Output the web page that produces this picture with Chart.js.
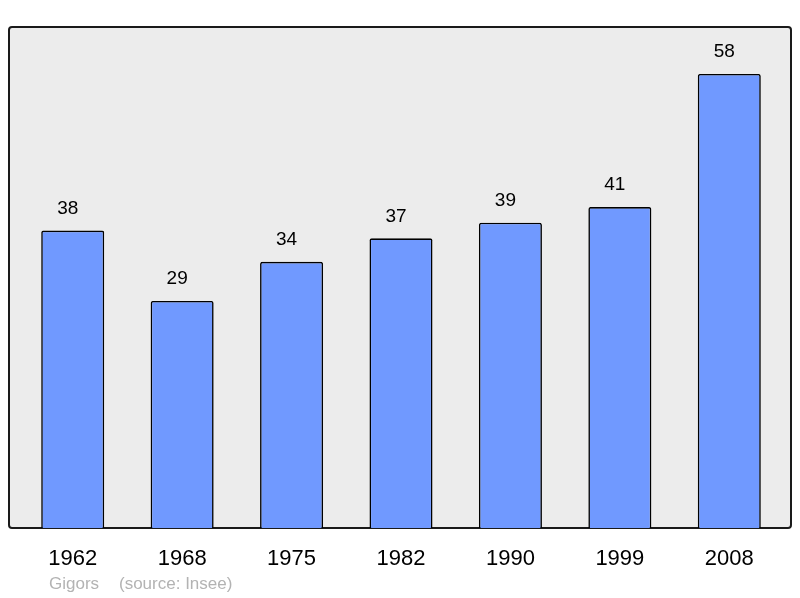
<!DOCTYPE html>
<html>
<head>
<meta charset="utf-8">
<script src="https://cdn.jsdelivr.net/npm/chart.js@4/dist/chart.umd.min.js"></script>
<style>
  html, body { margin: 0; padding: 0; background: #ffffff; }
  canvas { display: block; }
</style>
</head>
<body>
<canvas id="popChart" width="800" height="598"></canvas>
<script>
const years = ["1962", "1968", "1975", "1982", "1990", "1999", "2008"];
const population = [38, 29, 34, 37, 39, 41, 58];
const sourceText = ["Gigors", "(source: Insee)"];

// grey frame behind the bars, a bit wider than the category band
const framePlugin = {
    id: "frame",
    beforeDatasetsDraw(chart) {
        const { ctx, chartArea } = chart;
        const x0 = chartArea.left - 9, x1 = chartArea.right + 7;
        const y0 = chartArea.top, y1 = chartArea.bottom;
        ctx.save();
        ctx.beginPath();
        ctx.roundRect(x0, y0, x1 - x0, y1 - y0, 3);
        ctx.fillStyle = "#ececec";
        ctx.fill();
        ctx.lineWidth = 2;
        ctx.strokeStyle = "#1a1a1a";
        ctx.stroke();
        ctx.restore();
    },
    afterDatasetsDraw(chart) {
        const { ctx } = chart;
        const meta = chart.getDatasetMeta(0);
        ctx.save();
        ctx.font = "19px 'Liberation Sans', Arial, sans-serif";
        ctx.fillStyle = "#000000";
        ctx.textAlign = "center";
        ctx.textBaseline = "middle";
        meta.data.forEach((bar, i) => {
            ctx.fillText(String(population[i]), bar.x - 5, bar.y - 22);
        });
        ctx.font = "17px 'Liberation Sans', Arial, sans-serif";
        ctx.fillStyle = "#b3b3b3";
        ctx.textAlign = "left";
        ctx.fillText(sourceText[0], 49, 584);
        ctx.fillText(sourceText[1], 119, 584);
        ctx.restore();
    }
};

new Chart(document.getElementById("popChart").getContext("2d"), {
    type: "bar",
    data: {
        labels: years,
        datasets: [{
            data: population,
            backgroundColor: "#7099ff",
            borderColor: "#000000",
            borderWidth: 1.6,
            borderRadius: 2,
            borderSkipped: "bottom",
            barPercentage: 0.576,
            categoryPercentage: 1
        }]
    },
    options: {
        responsive: false,
        animation: false,
        devicePixelRatio: 1,
        layout: { padding: { left: 18, right: 16, top: 27, bottom: 0 } },
        plugins: { legend: { display: false }, tooltip: { enabled: false } },
        scales: {
            x: {
                grid: { display: false, drawTicks: false },
                border: { display: false },
                ticks: {
                    color: "#000000",
                    padding: 18,
                    font: { family: "'Liberation Sans', Arial, sans-serif", size: 22 }
                },
                afterFit(scale) { scale.height = 70; }
            },
            y: {
                display: false,
                min: 0,
                max: 64
            }
        }
    },
    plugins: [framePlugin]
});
</script>
</body>
</html>
